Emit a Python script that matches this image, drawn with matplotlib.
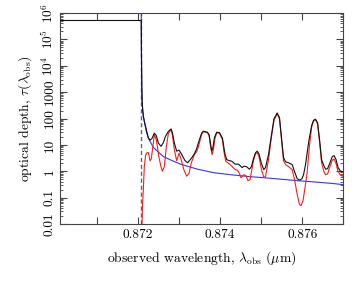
import matplotlib
matplotlib.use("Agg")
import matplotlib.pyplot as plt
from matplotlib.ticker import FixedLocator, FuncFormatter, LogLocator, NullFormatter

plt.rcParams['font.family'] = ['cmr10', 'DejaVu Serif']
plt.rcParams['mathtext.fontset'] = 'cm'
plt.rcParams['axes.formatter.use_mathtext'] = True

# Lyman-alpha edge (observed wavelength, micron)
lam_edge = 0.87207

# Total optical depth (black)
lam_total = [0.8700, 0.872077, 0.872082, 0.872086, 0.872092, 0.872100, 0.872112, 0.872129, 0.872154,
             0.872178, 0.872210, 0.872251, 0.872293, 0.872337, 0.872398, 0.872446, 0.872495,
             0.872561, 0.872617, 0.872666, 0.872739, 0.872805, 0.872837, 0.872885, 0.872941,
             0.873000, 0.873056, 0.873146, 0.873210, 0.873307, 0.873373, 0.873429, 0.873471,
             0.873551, 0.873593, 0.873641, 0.873690, 0.873732, 0.873763, 0.873795, 0.873824,
             0.873861, 0.873917, 0.873983, 0.874056, 0.874093, 0.874122, 0.874161, 0.874202,
             0.874283, 0.874366, 0.874446, 0.874537, 0.874580, 0.874641, 0.874715, 0.874763,
             0.874812, 0.874861, 0.874902, 0.874946, 0.875007, 0.875063, 0.875105, 0.875178,
             0.875251, 0.875312, 0.875390, 0.875446, 0.875495, 0.875544, 0.875593, 0.875666,
             0.875756, 0.875812, 0.875878, 0.875934, 0.875995, 0.876032, 0.876080, 0.876154,
             0.876227, 0.876276, 0.876324, 0.876373, 0.876422, 0.876471, 0.876527, 0.876568,
             0.876617, 0.876666, 0.876732, 0.876776, 0.876824, 0.876873, 0.876934, 0.877007]
tau_total = [5.2e5, 5.2e5, 1.0e5, 1.2e4, 1500, 500, 230, 125, 78,
             55, 34, 18.7, 15.1, 17.2, 27.8, 22.3, 11.8,
             8.8, 12.1, 20.5, 32.5, 40, 29, 11.8, 5.8,
             6.3, 4.6, 2.5, 2.1, 3.2, 4.6, 7.2, 12.1,
             28.2, 33, 31.6, 30.3, 24.3, 12.1, 5.8, 7.8,
             18.7, 30.3, 29, 18.2, 7.8, 4.25, 2.75, 2.6,
             2.4, 1.86, 1.86, 1.37, 1.56, 1.49, 1.2, 1.49,
             3.0, 5.0, 5.8, 4.6, 1.94, 1.15, 1.37, 4.25,
             24.3, 98, 162, 107, 18.7, 3.3, 2.3, 2.1,
             1.78, 0.97, 0.52, 0.46, 0.52, 0.74, 1.78, 12.1,
             53, 86, 94, 69, 15.7, 2.75, 1.63, 1.2,
             1.25, 1.94, 3.6, 3.9, 2.75, 1.37, 1.0, 0.95]

# Optical depth without damping wing (red)
lam_lines = [0.872090, 0.872098, 0.872110, 0.872129, 0.872154, 0.872185, 0.872215, 0.872251,
             0.872293, 0.872324, 0.872361, 0.872398, 0.872446, 0.872512, 0.872556, 0.872593,
             0.872641, 0.872690, 0.872739, 0.872805, 0.872837, 0.872885, 0.872941, 0.873000,
             0.873056, 0.873117, 0.873185, 0.873239, 0.873300, 0.873373, 0.873429, 0.873471,
             0.873551, 0.873593, 0.873641, 0.873690, 0.873732, 0.873763, 0.873805, 0.873837,
             0.873873, 0.873917, 0.873983, 0.874056, 0.874093, 0.874137, 0.874202, 0.874283,
             0.874366, 0.874422, 0.874471, 0.874507, 0.874544, 0.874580, 0.874629, 0.874678,
             0.874727, 0.874763, 0.874812, 0.874861, 0.874902, 0.874946, 0.875007, 0.875063,
             0.875105, 0.875178, 0.875251, 0.875312, 0.875390, 0.875446, 0.875495, 0.875544,
             0.875593, 0.875666, 0.875756, 0.875812, 0.875878, 0.875934, 0.875971, 0.876019,
             0.876068, 0.876117, 0.876166, 0.876227, 0.876276, 0.876324, 0.876373, 0.876422,
             0.876471, 0.876527, 0.876568, 0.876617, 0.876666, 0.876732, 0.876776, 0.876824,
             0.876873, 0.876934, 0.877007]
tau_lines = [0.001, 0.01, 0.05, 0.2, 1.5, 4.0, 5.0, 5.1,
             2.5, 3.0, 8.5, 24.3, 15.7, 3.3, 1.56, 1.0,
             1.5, 8.5, 26.6, 38, 24.3, 6.6, 2.5, 4.85,
             2.6, 1.15, 0.65, 0.81, 2.1, 4.25, 5.5, 8.5,
             25.4, 31.6, 30.3, 29, 22.3, 9.3, 4.25, 6.6,
             17.2, 29, 27.8, 15.7, 5.5, 2.4, 2.0, 1.56,
             1.15, 1.10, 0.81, 0.57, 0.65, 0.74, 0.68, 0.44,
             0.48, 0.97, 2.5, 4.6, 5.1, 3.6, 1.15, 0.60,
             0.62, 2.75, 20.5, 86, 152, 98, 15.7, 2.5,
             1.78, 1.5, 1.15, 0.48, 0.13, 0.054, 0.050, 0.077,
             0.24, 0.81, 6.6, 45, 83, 88, 64, 13.2,
             2.1, 0.97, 0.74, 0.78, 1.37, 2.63, 2.9, 1.94,
             0.97, 0.71, 0.62]

# Damping wing (blue)
lam_wing = [0.872080, 0.872082, 0.872086, 0.872092, 0.872100, 0.872112, 0.872129, 0.872154,
            0.872178, 0.872202, 0.872251, 0.872373, 0.872617, 0.872812, 0.873032, 0.873446,
            0.873837, 0.874251, 0.874739, 0.875056, 0.875885, 0.876690, 0.877007]
tau_wing = [2e6, 1.0e5, 1.2e4, 1500, 500, 230, 125, 78,
            50, 32, 18.0, 8.0, 3.6, 2.6, 1.86, 1.2,
            0.885, 0.74, 0.62, 0.57, 0.44, 0.35, 0.31]

x_ticks_major = [0.872, 0.874, 0.876]
x_ticks_minor = [0.871, 0.873, 0.875, 0.877]
y_ticks = [0.01, 0.1, 1, 10, 100, 1000, 1e4, 1e5, 1e6]
y_tick_labels = ['0.01', '0.1', '1', '10', '100', '1000',
                 r'$10^4$', r'$10^5$', r'$10^6$']

fig = plt.figure(figsize=(3.56, 2.85), dpi=100)
ax = fig.add_axes([60 / 356, 61 / 285, 283.3 / 356, 211 / 285])

ax.axvline(lam_edge, color='#666666', lw=1.0, ls=(0, (3, 2)), zorder=1)
ax.plot(lam_wing, tau_wing, color='#3333ff', lw=0.8, zorder=2)
ax.plot(lam_lines, tau_lines, color='#ff1a1a', lw=0.8, zorder=3)
ax.plot(lam_total, tau_total, color='#111111', lw=0.8, zorder=4)

ax.set_yscale('log')
ax.set_xlim(0.8701, 0.877)
ax.set_ylim(0.01, 1e6)

ax.xaxis.set_major_locator(FixedLocator(x_ticks_major))
ax.xaxis.set_minor_locator(FixedLocator(x_ticks_minor))
ax.xaxis.set_major_formatter(FuncFormatter(lambda v, p: f'{v:.3f}'))
ax.yaxis.set_major_locator(FixedLocator(y_ticks))
ax.yaxis.set_major_formatter(FuncFormatter(
    lambda v, p: y_tick_labels[y_ticks.index(min(y_ticks, key=lambda t: abs(t - v) / t))]))
ax.yaxis.set_minor_locator(LogLocator(base=10, subs=range(2, 10), numticks=20))
ax.yaxis.set_minor_formatter(NullFormatter())

ax.tick_params(which='both', direction='in', top=True, right=True, color='#444444',
               labelsize=9.6)
ax.tick_params(which='major', length=5, width=0.8)
ax.tick_params(which='minor', length=2.5, width=0.6)
ax.tick_params(axis='x', which='minor', length=5, width=0.8)
for lbl in ax.get_yticklabels():
    lbl.set_rotation(90)
    lbl.set_va('center')
ax.tick_params(axis='y', pad=3)

for s in ax.spines.values():
    s.set_color('#444444')
    s.set_linewidth(0.8)

ax.set_xlabel(r'observed wavelength, $\lambda_{\rm obs}$ ($\mu$m)', fontsize=9.8, labelpad=6)
ax.set_ylabel(r'optical depth, $\tau(\lambda_{\rm obs})$', fontsize=9.8, labelpad=4)

fig.savefig('out.png', dpi=100)
